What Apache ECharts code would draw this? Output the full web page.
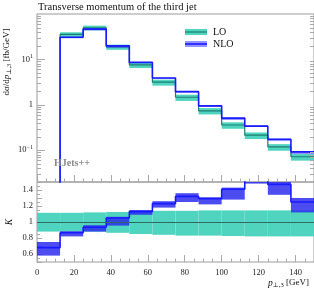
<!DOCTYPE html>
<html><head><meta charset="utf-8">
<script src="https://cdn.jsdelivr.net/npm/echarts@6/dist/echarts.min.js"></script>
<style>html,body{margin:0;padding:0;background:#fff}#c{width:314px;height:289px}</style>
</head><body><div id="c"></div>
<script>
// ---- data ----
const binEdges = [0, 12.5, 25, 37.5, 50, 62.5, 75, 87.5, 100, 112.5, 125, 137.5, 150];
// main panel: dsigma/dp [fb/GeV]
const loVals  = [0.0059, 35.5, 49.5, 18.8, 7.6, 3.15, 1.47, 0.74, 0.36, 0.215, 0.119, 0.072];
const nloVals = [0.004, 30.8, 46.4, 19.9, 8.6, 3.9, 1.95, 0.95, 0.51, 0.34, 0.175, 0.092];
// ratio panel K
const kNlo    = [0.68, 0.865, 0.935, 1.05, 1.13, 1.23, 1.32, 1.29, 1.41, 1.53, 1.47, 1.25];
const kNloDn  = [0.58, 0.82, 0.88, 0.955, 1.09, 1.18, 1.25, 1.22, 1.28, 1.48, 1.34, 1.12];
const kNloUp  = [0.75, 0.885, 0.96, 1.065, 1.15, 1.26, 1.36, 1.31, 1.43, 1.58, 1.51, 1.30];
const kLoDn   = [0.88, 0.88, 0.88, 0.865, 0.85, 0.84, 0.83, 0.83, 0.825, 0.82, 0.82, 0.82];
const kLoUp   = [1.115, 1.115, 1.12, 1.125, 1.13, 1.14, 1.14, 1.145, 1.145, 1.145, 1.145, 1.145];
const xTickLabels = [0, 20, 40, 60, 80, 100, 120, 140];
const yMainLabels = [0.1, 1, 10];
const yRatioLabels = [0.6, 0.8, 1, 1.2, 1.4];
const minorMul = [2, 3, 4, 5, 6, 7, 8, 9];
const decades = [0.01, 0.1, 1, 10];

const SERIF = '"Liberation Serif", "DejaVu Serif", serif';
const TEAL = '#4fd4c0', TEAL_DARK = '#1f7d70', BLUE = '#1a1aff';

function stepPts(vals) {
  const p = vals.map((v, i) => [binEdges[i], v]);
  p.push([binEdges[binEdges.length - 1], vals[vals.length - 1]]);
  return p;
}
function bandRender(fill) {
  return function (params, api) {
    const a = api.coord([api.value(0), api.value(3)]);
    const b = api.coord([api.value(1), api.value(2)]);
    const cs = params.coordSys;
    const r = echarts.graphic.clipRectByRect(
      {x: a[0], y: a[1], width: b[0] - a[0], height: b[1] - a[1]},
      {x: cs.x, y: cs.y, width: cs.width, height: cs.height});
    if (!r) return;
    return {type: 'rect', shape: r, style: {fill: fill}};
  };
}
const loBandMain = loVals.map((v, i) => [binEdges[i], binEdges[i + 1], v * kLoDn[i], v * kLoUp[i]]);
const nloBandMain = nloVals.map((v, i) => [binEdges[i], binEdges[i + 1], v * kNloDn[i] / kNlo[i], v * kNloUp[i] / kNlo[i]]);
const loBandRatio = kLoDn.map((v, i) => [binEdges[i], binEdges[i + 1], v, kLoUp[i]]);
const nloBandRatio = kNlo.map((v, i) => [binEdges[i], binEdges[i + 1], kNloDn[i], kNloUp[i]]);
const minorTicks = [];
decades.forEach(d => minorMul.forEach(m => { const v = d * m; if (v > 0.02 && v < 100) minorTicks.push([0, v]); }));

function isIn(v, arr) { return arr.some(a => Math.abs(a - v) < 1e-6); }

const chart = echarts.init(document.getElementById('c'), null, {renderer: 'canvas'});
const axisLblBase = {color: '#222', fontFamily: SERIF, fontSize: 8.5};
chart.setOption({
  animation: false,
  grid: [
    {left: 37, top: 14, width: 278, height: 168, show: true, borderColor: '#9a9a9a', borderWidth: 1, backgroundColor: 'transparent'},
    {left: 37, top: 182, width: 278, height: 80, show: true, borderColor: '#9a9a9a', borderWidth: 1, backgroundColor: 'transparent'}
  ],
  xAxis: [
    {gridIndex: 0, type: 'value', min: 0, max: 150, interval: 20,
     axisLine: {show: false}, splitLine: {show: false}, axisLabel: {show: false},
     axisTick: {inside: true, length: 7, lineStyle: {color: '#aaa'}},
     minorTick: {show: true, splitNumber: 4, length: 3.5, lineStyle: {color: '#aaa'}}},
    {gridIndex: 1, type: 'value', min: 0, max: 150, interval: 20,
     axisLine: {show: false}, splitLine: {show: false},
     axisLabel: Object.assign({}, axisLblBase, {margin: 6, showMaxLabel: false,
       formatter: v => isIn(v, xTickLabels) ? String(v) : ''}),
     axisTick: {inside: true, length: 7, lineStyle: {color: '#aaa'}},
     minorTick: {show: true, splitNumber: 4, length: 3.5, lineStyle: {color: '#aaa'}}}
  ],
  yAxis: [
    {gridIndex: 0, type: 'log', logBase: 10, min: 0.02, max: 100,
     axisLine: {show: false}, splitLine: {show: false},
     axisTick: {inside: true, length: 8, lineStyle: {color: '#aaa'}},
     axisLabel: Object.assign({}, axisLblBase, {margin: 4, showMinLabel: false, showMaxLabel: false,
       formatter: function (v) {
         if (!isIn(v, yMainLabels)) return '';
         const e = Math.round(Math.log10(v));
         if (e === 0) return '{b|1}';
         return '{b|10}{s|' + (e < 0 ? '\u2212' + (-e) : e) + '}';
       },
       rich: {b: {fontFamily: SERIF, fontSize: 8.5, color: '#222'},
              s: {fontFamily: SERIF, fontSize: 6, color: '#222', padding: [0, 0, 6, 0]}}})},
    {gridIndex: 1, type: 'value', min: 0.5, max: 1.5, interval: 0.1,
     axisLine: {show: false}, splitLine: {show: false},
     axisTick: {inside: true, length: 5, lineStyle: {color: '#aaa'}},
     minorTick: {show: true, splitNumber: 2, length: 3, lineStyle: {color: '#aaa'}},
     axisLabel: Object.assign({}, axisLblBase, {margin: 4, showMinLabel: false, showMaxLabel: false,
       formatter: v => isIn(v, yRatioLabels) ? String(Math.round(v * 10) / 10) : ''})}
  ],
  series: [
    {type: 'custom', xAxisIndex: 0, yAxisIndex: 0, data: loBandMain, renderItem: bandRender(TEAL),
     encode: {x: [0, 1], y: [2, 3]}, z: 1, silent: true},
    {type: 'line', xAxisIndex: 0, yAxisIndex: 0, data: stepPts(loVals), step: 'end', showSymbol: false,
     lineStyle: {color: TEAL_DARK, width: 1.2}, z: 2, silent: true},
    {type: 'custom', xAxisIndex: 0, yAxisIndex: 0, data: nloBandMain, renderItem: bandRender('rgba(60,60,255,0.55)'),
     encode: {x: [0, 1], y: [2, 3]}, z: 3, silent: true},
    {type: 'line', xAxisIndex: 0, yAxisIndex: 0, data: stepPts(nloVals), step: 'end', showSymbol: false,
     lineStyle: {color: BLUE, width: 1.6}, z: 4, silent: true},
    // minor log ticks (left and right frame)
    {type: 'custom', xAxisIndex: 0, yAxisIndex: 0, data: minorTicks, encode: {x: 0, y: 1}, z: 5, silent: true,
     renderItem: function (params, api) {
       const cs = params.coordSys;
       const y = Math.round(api.coord([0, api.value(1)])[1]) + 0.5;
       const st = {stroke: '#aaa', lineWidth: 1};
       return {type: 'group', children: [
         {type: 'line', shape: {x1: cs.x, y1: y, x2: cs.x + 4, y2: y}, style: st},
         {type: 'line', shape: {x1: cs.x + cs.width - 4, y1: y, x2: cs.x + cs.width, y2: y}, style: st}
       ]};
     }},
    // ratio panel
    {type: 'custom', xAxisIndex: 1, yAxisIndex: 1, data: loBandRatio, renderItem: bandRender(TEAL),
     encode: {x: [0, 1], y: [2, 3]}, z: 1, silent: true,
     markLine: {silent: true, symbol: 'none', label: {show: false},
       lineStyle: {color: '#2e6a62', width: 1.2, type: 'solid'}, data: [{yAxis: 1}]}},
    {type: 'custom', xAxisIndex: 1, yAxisIndex: 1, data: nloBandRatio, renderItem: bandRender('rgba(45,45,238,0.85)'),
     encode: {x: [0, 1], y: [2, 3]}, z: 3, silent: true},
    {type: 'line', xAxisIndex: 1, yAxisIndex: 1, data: stepPts(kNlo), step: 'end', showSymbol: false,
     lineStyle: {color: BLUE, width: 1.6}, z: 4, silent: true}
  ],
  graphic: [
    {type: 'text', x: 38, y: 7, style: {text: 'Transverse momentum of the third jet', fontFamily: SERIF, fontSize: 10.5, fill: '#111', verticalAlign: 'middle', align: 'left'}},
    {type: 'text', x: 7, y: 62, rotation: Math.PI / 2, style: {
      text: '{a|d\u03C3/d}{i|p}{s|\u22A5,3}{a| [fb/GeV]}', align: 'center', verticalAlign: 'middle',
      rich: {a: {fontFamily: SERIF, fontSize: 9, fill: '#111'}, i: {fontFamily: SERIF, fontSize: 9, fontStyle: 'italic', fill: '#111'},
             s: {fontFamily: SERIF, fontSize: 6.5, fill: '#111', padding: [5, 0, 0, 0]}}}},
    {type: 'text', x: 9, y: 222, rotation: Math.PI / 2, style: {text: 'K', fontFamily: SERIF, fontSize: 9.5, fontStyle: 'italic', fill: '#111', align: 'center', verticalAlign: 'middle'}},
    {type: 'text', x: 268, y: 283, style: {
      text: '{i|p}{s|\u22A5,3}{a| [GeV]}', align: 'left', verticalAlign: 'middle',
      rich: {a: {fontFamily: SERIF, fontSize: 9, fill: '#111'}, i: {fontFamily: SERIF, fontSize: 9.5, fontStyle: 'italic', fill: '#111'},
             s: {fontFamily: SERIF, fontSize: 6.5, fill: '#111', padding: [5, 0, 0, 0]}}}},
    {type: 'text', x: 54, y: 163, z: 100, style: {text: 'HJets++', fontFamily: SERIF, fontSize: 10, fontWeight: 'bold', fill: '#8a8a8a', verticalAlign: 'middle', align: 'left'}},
    // legend
    {type: 'rect', shape: {x: 185, y: 29, width: 22, height: 6}, style: {fill: TEAL}},
    {type: 'line', shape: {x1: 185, y1: 32, x2: 207, y2: 32}, style: {stroke: TEAL_DARK, lineWidth: 1.2}},
    {type: 'text', x: 213, y: 32, style: {text: 'LO', fontFamily: SERIF, fontSize: 10, fill: '#111', verticalAlign: 'middle'}},
    {type: 'rect', shape: {x: 185, y: 41, width: 22, height: 6}, style: {fill: 'rgba(60,60,255,0.55)'}},
    {type: 'line', shape: {x1: 185, y1: 44, x2: 207, y2: 44}, style: {stroke: BLUE, lineWidth: 1.6}},
    {type: 'text', x: 213, y: 44, style: {text: 'NLO', fontFamily: SERIF, fontSize: 10, fill: '#111', verticalAlign: 'middle'}}
  ]
});
</script>
</body></html>
